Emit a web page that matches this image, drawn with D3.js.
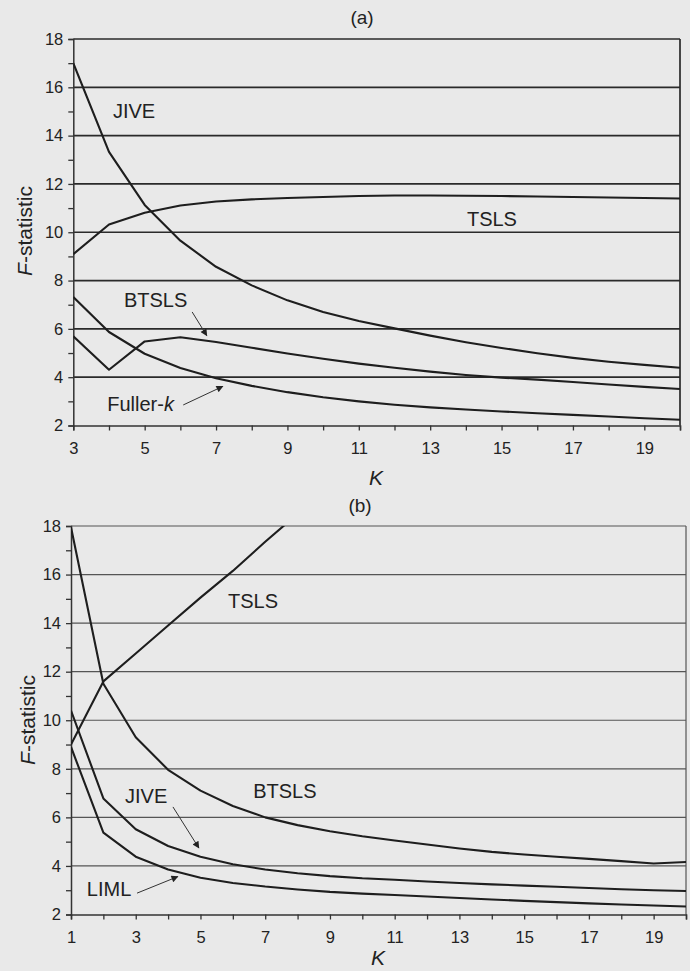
<!DOCTYPE html>
<html>
<head>
<meta charset="utf-8">
<script src="https://cdn.jsdelivr.net/npm/d3@7"></script>
<style>
  html, body { margin: 0; padding: 0; background: #e9e9e9; }
  svg { display: block; }
  text { font-family: "Liberation Sans", Arial, sans-serif; fill: #222; }
</style>
</head>
<body>
<svg id="chart" width="690" height="971"></svg>
<script>
// ---------- DATA ----------
// Panel (a)
const kA = [3,4,5,6,7,8,9,10,11,12,13,14,15,16,17,18,19,20];
const aJIVE   = [17.0,13.33,11.13,9.65,8.57,7.8,7.18,6.7,6.33,6.02,5.72,5.45,5.21,4.99,4.8,4.64,4.51,4.39];
const aTSLS   = [9.09,10.32,10.81,11.11,11.27,11.36,11.42,11.46,11.5,11.52,11.52,11.51,11.5,11.48,11.46,11.44,11.42,11.4];
const aBTSLS  = [5.69,4.31,5.48,5.65,5.46,5.22,4.98,4.76,4.56,4.39,4.23,4.09,3.98,3.9,3.8,3.7,3.6,3.51];
const aFuller = [7.32,5.87,4.97,4.38,3.96,3.64,3.38,3.17,3.0,2.86,2.75,2.66,2.58,2.51,2.44,2.37,2.3,2.24];
const xTicksA = [3,5,7,9,11,13,15,17,19];

// Panel (b)
const kB = [1,2,3,4,5,6,7,8,9,10,11,12,13,14,15,16,17,18,19,20];
const bTSLS  = [9.0,11.6,12.75,13.9,15.05,16.15,17.35,18.5];
const bBTSLS = [17.95,11.5,9.3,7.96,7.1,6.47,6.0,5.68,5.43,5.22,5.05,4.88,4.72,4.58,4.47,4.38,4.29,4.2,4.1,4.16];
const bJIVE  = [10.4,6.78,5.51,4.82,4.38,4.07,3.85,3.7,3.58,3.49,3.43,3.36,3.3,3.24,3.19,3.14,3.09,3.04,3.0,2.97];
const bLIML  = [8.9,5.37,4.38,3.85,3.51,3.3,3.15,3.03,2.93,2.86,2.8,2.74,2.68,2.62,2.56,2.51,2.46,2.41,2.37,2.33];
const xTicksB = [1,3,5,7,9,11,13,15,17,19];

const yTicks = [2,4,6,8,10,12,14,16,18];

// ---------- DRAW ----------
const svg = d3.select("#chart");
const defs = svg.append("defs");
defs.append("marker")
  .attr("id", "arrow").attr("viewBox", "0 0 10 10")
  .attr("refX", 9).attr("refY", 5)
  .attr("markerWidth", 9).attr("markerHeight", 7)
  .attr("markerUnits", "userSpaceOnUse")
  .attr("orient", "auto")
  .append("path").attr("d", "M0,0 L10,5 L0,10 Z").attr("fill", "#222");

function panel(cfg) {
  const x = d3.scaleLinear().domain(cfg.xDomain).range([cfg.left, cfg.right]);
  const y = d3.scaleLinear().domain([2, 18]).range([cfg.bottom, cfg.top]);
  const g = svg.append("g");

  const clipId = "clip" + cfg.id;
  defs.append("clipPath").attr("id", clipId)
    .append("rect").attr("x", cfg.left).attr("y", cfg.top)
    .attr("width", cfg.right - cfg.left).attr("height", cfg.bottom - cfg.top);

  // gridlines
  g.append("g").selectAll("line").data(yTicks.filter(v => v > 2)).join("line")
    .attr("x1", cfg.left).attr("x2", cfg.right)
    .attr("y1", d => y(d)).attr("y2", d => y(d))
    .attr("stroke", cfg.gridColor).attr("stroke-width", cfg.gridWidth);

  // right border
  g.append("line").attr("x1", cfg.right).attr("x2", cfg.right)
    .attr("y1", cfg.top).attr("y2", cfg.bottom)
    .attr("stroke", cfg.gridColor).attr("stroke-width", cfg.gridWidth);

  // y axis
  const yAxis = d3.axisLeft(y)
    .tickValues(d3.range(2, 18.01, 1))
    .tickSize(5)
    .tickFormat(d => (d % 2 === 0 ? d : ""));
  const ya = g.append("g").attr("transform", `translate(${cfg.left},0)`).call(yAxis);
  ya.attr("font-family", null).attr("font-size", null);
  ya.select(".domain").attr("stroke", "#333").attr("stroke-width", 1.5);
  ya.selectAll(".tick line").attr("stroke", "#333").attr("stroke-width", 1.3);
  ya.selectAll(".tick text").attr("font-size", 16.5).attr("x", -10).attr("fill", "#222");

  // x axis
  const xAxis = d3.axisBottom(x)
    .tickValues(d3.range(cfg.xDomain[0], cfg.xDomain[1] + 0.01, 1))
    .tickSize(5)
    .tickFormat(d => (cfg.xTicks.includes(d) ? d : ""));
  const xa = g.append("g").attr("transform", `translate(0,${cfg.bottom})`).call(xAxis);
  xa.attr("font-family", null).attr("font-size", null);
  xa.select(".domain").attr("stroke", "#333").attr("stroke-width", 1.5);
  xa.selectAll(".tick line").attr("stroke", "#333").attr("stroke-width", 1.3);
  xa.selectAll(".tick text").attr("font-size", 16.5).attr("y", 17).attr("fill", "#222");

  // series
  const line = d3.line().x(d => x(d[0])).y(d => y(d[1]));
  const sg = g.append("g").attr("clip-path", `url(#${clipId})`);
  cfg.series.forEach(s => {
    const pts = s.values.map((v, i) => [cfg.k[i], v]);
    sg.append("path").datum(pts).attr("d", line)
      .attr("fill", "none").attr("stroke", "#1e1e1e")
      .attr("stroke-width", 2.1).attr("stroke-linejoin", "round");
  });

  // labels
  cfg.labels.forEach(l => {
    const t = g.append("text").attr("x", x(l.k)).attr("y", y(l.v))
      .attr("font-size", 20);
    t.append("tspan").text(l.text);
    if (l.italic) t.append("tspan").attr("font-style", "italic").text(l.italic);
  });

  // arrows
  cfg.arrows.forEach(a => {
    g.append("line")
      .attr("x1", x(a.from[0])).attr("y1", y(a.from[1]))
      .attr("x2", x(a.to[0])).attr("y2", y(a.to[1]))
      .attr("stroke", "#333").attr("stroke-width", 1)
      .attr("marker-end", "url(#arrow)");
  });

  // panel title
  g.append("text").attr("x", cfg.titleX).attr("y", cfg.titleY)
    .attr("text-anchor", "middle").attr("font-size", 19).text(cfg.title);

  // axis titles
  g.append("text").attr("x", cfg.kX).attr("y", cfg.kY)
    .attr("text-anchor", "middle").attr("font-size", 21)
    .attr("font-style", "italic").text("K");

  const ft = g.append("text")
    .attr("transform", `translate(${cfg.fX},${cfg.fY}) rotate(-90)`)
    .attr("text-anchor", "middle").attr("font-size", 21);
  ft.append("tspan").attr("font-style", "italic").text("F");
  ft.append("tspan").text("-statistic");
}

panel({
  id: "a",
  k: kA, xDomain: [3, 20], xTicks: xTicksA,
  left: 73.3, right: 680, top: 39, bottom: 425.5,
  gridColor: "#2a2a2a", gridWidth: 1.7,
  series: [
    {name: "JIVE", values: aJIVE},
    {name: "TSLS", values: aTSLS},
    {name: "BTSLS", values: aBTSLS},
    {name: "Fuller-k", values: aFuller}
  ],
  labels: [
    {text: "JIVE", k: 4.11, v: 14.73},
    {text: "BTSLS", k: 4.42, v: 6.91},
    {text: "Fuller-", italic: "k", k: 3.95, v: 2.6},
    {text: "TSLS", k: 14.03, v: 10.26}
  ],
  arrows: [
    {from: [6.33, 6.7], to: [6.74, 5.72]},
    {from: [6.08, 2.85], to: [7.19, 3.62]}
  ],
  title: "(a)", titleX: 362, titleY: 24,
  kX: 376, kY: 485,
  fX: 32, fY: 231
});

panel({
  id: "b",
  k: kB, xDomain: [1, 20], xTicks: xTicksB,
  left: 71, right: 686, top: 526, bottom: 914.5,
  gridColor: "#555", gridWidth: 1.2,
  series: [
    {name: "TSLS", values: bTSLS},
    {name: "BTSLS", values: bBTSLS},
    {name: "JIVE", values: bJIVE},
    {name: "LIML", values: bLIML}
  ],
  labels: [
    {text: "TSLS", k: 5.85, v: 14.62},
    {text: "BTSLS", k: 6.63, v: 6.8},
    {text: "JIVE", k: 2.67, v: 6.59},
    {text: "LIML", k: 1.49, v: 2.76}
  ],
  arrows: [
    {from: [4.15, 6.43], to: [4.95, 4.74]},
    {from: [3.04, 2.88], to: [4.3, 3.56]}
  ],
  title: "(b)", titleX: 360, titleY: 512,
  kX: 378, kY: 965,
  fX: 35, fY: 720
});
</script>
</body>
</html>
